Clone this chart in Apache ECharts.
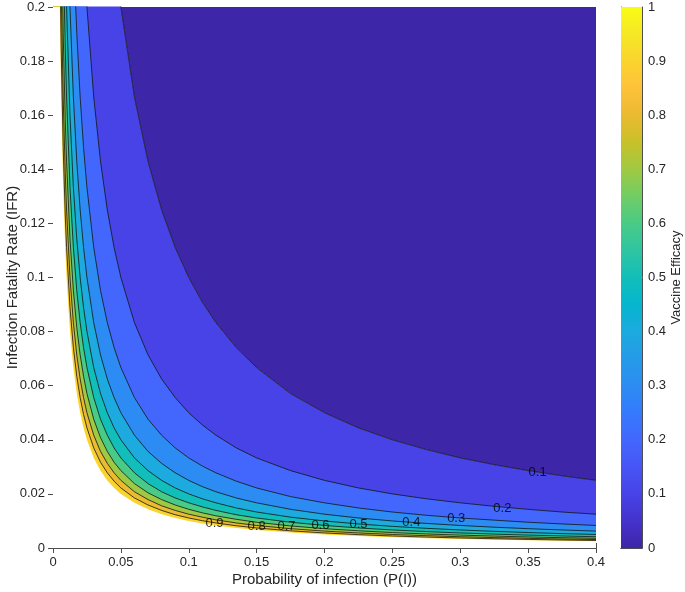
<!DOCTYPE html>
<html><head><meta charset="utf-8">
<script src="https://cdn.jsdelivr.net/npm/echarts@6/dist/echarts.min.js"></script>
<style>html,body{margin:0;padding:0;background:#fff}#c{width:685px;height:592px}</style>
</head><body><div id="c"></div>
<script>
// ---- tick labels ----
const xTicks = ['0','0.05','0.1','0.15','0.2','0.25','0.3','0.35','0.4'];
const yTicks = ['0','0.02','0.04','0.06','0.08','0.1','0.12','0.14','0.16','0.18','0.2'];
const cbTicks = ['0','0.1','0.2','0.3','0.4','0.5','0.6','0.7','0.8','0.9','1'];

// ---- contour lines: IFR value of each level at these P(I) ----
const pI = [0,0.002,0.003,0.004,0.005,0.006,0.0075,0.009,0.01,0.0125,0.015,0.0175,0.02,0.0225,0.025,0.03,0.035,0.04,0.045,0.05,0.06,0.07,0.08,0.09,0.1,0.11,0.12,0.135,0.15,0.175,0.2,0.225,0.25,0.275,0.3,0.325,0.35,0.375,0.4];
const ve01 = [33.33,5,3.333,2.5,2,1.667,1.333,1.111,1,0.8,0.6667,0.5714,0.5,0.4444,0.4,0.3333,0.2857,0.25,0.2222,0.2,0.1667,0.1429,0.125,0.1111,0.1,0.0909,0.0833,0.0741,0.0667,0.0571,0.05,0.0444,0.04,0.0364,0.0333,0.0308,0.0286,0.0267,0.025];
const ve02 = [16.67,2.5,1.667,1.25,1,0.8333,0.6667,0.5556,0.5,0.4,0.3333,0.2857,0.25,0.2222,0.2,0.1667,0.1429,0.125,0.1111,0.1,0.0833,0.0714,0.0625,0.0556,0.05,0.0455,0.0417,0.037,0.0333,0.0286,0.025,0.0222,0.02,0.0182,0.0167,0.0154,0.0143,0.0133,0.0125];
const ve03 = [11.11,1.667,1.111,0.8333,0.6667,0.5556,0.4444,0.3704,0.3333,0.2667,0.2222,0.1905,0.1667,0.1481,0.1333,0.1111,0.0952,0.0833,0.0741,0.0667,0.0556,0.0476,0.0417,0.037,0.0333,0.0303,0.0278,0.0247,0.0222,0.019,0.0167,0.0148,0.0133,0.0121,0.0111,0.0103,0.00952,0.00889,0.00833];
const ve04 = [8.333,1.25,0.8333,0.625,0.5,0.4167,0.3333,0.2778,0.25,0.2,0.1667,0.1429,0.125,0.1111,0.1,0.0833,0.0714,0.0625,0.0556,0.05,0.0417,0.0357,0.0313,0.0278,0.025,0.0227,0.0208,0.0185,0.0167,0.0143,0.0125,0.0111,0.01,0.00909,0.00833,0.00769,0.00714,0.00667,0.00625];
const ve05 = [6.667,1,0.6667,0.5,0.4,0.3333,0.2667,0.2222,0.2,0.16,0.1333,0.1143,0.1,0.0889,0.08,0.0667,0.0571,0.05,0.0444,0.04,0.0333,0.0286,0.025,0.0222,0.02,0.0182,0.0167,0.0148,0.0133,0.0114,0.01,0.00889,0.008,0.00727,0.00667,0.00615,0.00571,0.00533,0.005];
const ve06 = [5.556,0.8333,0.5556,0.4167,0.3333,0.2778,0.2222,0.1852,0.1667,0.1333,0.1111,0.0952,0.0833,0.0741,0.0667,0.0556,0.0476,0.0417,0.037,0.0333,0.0278,0.0238,0.0208,0.0185,0.0167,0.0152,0.0139,0.0123,0.0111,0.00952,0.00833,0.00741,0.00667,0.00606,0.00556,0.00513,0.00476,0.00444,0.00417];
const ve07 = [4.762,0.7143,0.4762,0.3571,0.2857,0.2381,0.1905,0.1587,0.1429,0.1143,0.0952,0.0816,0.0714,0.0635,0.0571,0.0476,0.0408,0.0357,0.0317,0.0286,0.0238,0.0204,0.0179,0.0159,0.0143,0.013,0.0119,0.0106,0.00952,0.00816,0.00714,0.00635,0.00571,0.00519,0.00476,0.0044,0.00408,0.00381,0.00357];
const ve08 = [4.167,0.625,0.4167,0.3125,0.25,0.2083,0.1667,0.1389,0.125,0.1,0.0833,0.0714,0.0625,0.0556,0.05,0.0417,0.0357,0.0313,0.0278,0.025,0.0208,0.0179,0.0156,0.0139,0.0125,0.0114,0.0104,0.00926,0.00833,0.00714,0.00625,0.00556,0.005,0.00455,0.00417,0.00385,0.00357,0.00333,0.00313];
const ve09 = [3.704,0.5556,0.3704,0.2778,0.2222,0.1852,0.1481,0.1235,0.1111,0.0889,0.0741,0.0635,0.0556,0.0494,0.0444,0.037,0.0317,0.0278,0.0247,0.0222,0.0185,0.0159,0.0139,0.0123,0.0111,0.0101,0.00926,0.00823,0.00741,0.00635,0.00556,0.00494,0.00444,0.00404,0.0037,0.00342,0.00317,0.00296,0.00278];
const ve10 = [3.333,0.5,0.3333,0.25,0.2,0.1667,0.1333,0.1111,0.1,0.08,0.0667,0.0571,0.05,0.0444,0.04,0.0333,0.0286,0.025,0.0222,0.02,0.0167,0.0143,0.0125,0.0111,0.01,0.00909,0.00833,0.00741,0.00667,0.00571,0.005,0.00444,0.004,0.00364,0.00333,0.00308,0.00286,0.00267,0.0025];

// ---- contour labels ----
const labelText = ['0.1','0.2','0.3','0.4','0.5','0.6','0.7','0.8','0.9'];
const labelP = [0.357,0.331,0.297,0.264,0.225,0.197,0.172,0.150,0.119];
const labelIFR = [0.0278,0.0148,0.0111,0.0096,0.0088,0.0084,0.0081,0.0081,0.0091];

// ---- colours (parula) ----
const bandColors = ['#3E26A8','#4743E7','#4367FD','#2D8CF3','#1CAADF','#12BEB9','#48CB86','#9FC942','#EABA31','#FAD42E'];
const parula = ['#3E26A8','#4433CC','#4743E7','#4755F6','#4367FD','#347AFD','#2D8CF3','#259BE8','#1CAADF','#05B6CE','#12BEB9','#2FC5A2','#48CB86','#71CD64','#9FC942','#C8C129','#EABA31','#FEC13A','#FAD42E','#F5E825','#F9FB15'];

const FONT = 'Liberation Sans, Arial, Helvetica, sans-serif';
const AX = '#4d4d4d', TXT = '#262626';
const chart = echarts.init(document.getElementById('c'), null, {renderer: 'canvas'});

const levelArrays = [ve01,ve02,ve03,ve04,ve05,ve06,ve07,ve08,ve09,ve10];
const pairs = arr => arr.map((v,i) => [pI[i], v]);

const series = [];
series.push({
  type: 'line', xAxisIndex: 0, yAxisIndex: 0, data: pairs(ve01), symbol: 'none',
  lineStyle: {width: 0}, areaStyle: {color: bandColors[0], opacity: 1, origin: 'end'},
  silent: true, z: 1
});
levelArrays.forEach((arr, i) => {
  const last = i === levelArrays.length - 1;
  series.push({
    type: 'line', xAxisIndex: 0, yAxisIndex: 0, data: pairs(arr), symbol: 'none',
    silent: true, z: 2,
    lineStyle: last ? {width: 0} : {width: 0.8, color: '#141414'},
    areaStyle: {color: last ? '#ffffff' : bandColors[i + 1], opacity: 1, origin: 'start'}
  });
});
series.push({
  type: 'scatter', xAxisIndex: 0, yAxisIndex: 0, symbolSize: 1, silent: true, z: 5,
  itemStyle: {color: 'rgba(0,0,0,0)'},
  data: labelP.map((p,i) => ({value: [p, labelIFR[i]], name: labelText[i]})),
  label: {show: true, position: 'inside', formatter: p => p.name, fontSize: 13, color: '#000', fontFamily: FONT}
});
series.push({
  type: 'bar', xAxisIndex: 2, yAxisIndex: 2, data: [1], barWidth: '100%', silent: true,
  itemStyle: {color: new echarts.graphic.LinearGradient(0, 1, 0, 0,
    parula.map((c, i) => ({offset: i / (parula.length - 1), color: c})))}
});

const tickStyle = {inside: true, length: 5, lineStyle: {color: AX, width: 1}};
const lineStyle = {show: true, lineStyle: {color: AX, width: 1}};
const labelStyle = {color: TXT, fontSize: 13, fontFamily: FONT, margin: 8};

chart.setOption({
  animation: false,
  backgroundColor: '#fff',
  grid: [
    {left: 53, right: 89, top: 7, bottom: 44, containLabel: false, outerBoundsMode: 'none'},
    {left: 621, right: 43, top: 7, bottom: 44, containLabel: false, outerBoundsMode: 'none'}
  ],
  xAxis: [
    {gridIndex: 0, type: 'value', min: 0, max: 0.4, interval: 0.05, position: 'bottom',
     axisLine: lineStyle, axisTick: tickStyle, splitLine: {show: false},
     axisLabel: Object.assign({}, labelStyle, {formatter: v => xTicks[Math.round(v / 0.05)]}),
     name: 'Probability of infection (P(I))', nameLocation: 'middle', nameGap: 24, nameMoveOverlap: false,
     nameTextStyle: {color: TXT, fontSize: 15, fontFamily: FONT}},
    {gridIndex: 0, type: 'value', min: 0, max: 0.4, interval: 0.05, position: 'top',
     axisLine: lineStyle, axisTick: tickStyle, splitLine: {show: false}, axisLabel: {show: false}},
    {gridIndex: 1, type: 'category', data: ['cb'], position: 'bottom',
     axisLine: lineStyle, axisTick: {show: false}, axisLabel: {show: false}},
    {gridIndex: 1, type: 'category', data: ['cb'], position: 'top',
     axisLine: lineStyle, axisTick: {show: false}, axisLabel: {show: false}}
  ],
  yAxis: [
    {gridIndex: 0, type: 'value', min: 0, max: 0.2, interval: 0.02, position: 'left',
     axisLine: lineStyle, axisTick: tickStyle, splitLine: {show: false},
     axisLabel: Object.assign({}, labelStyle, {formatter: v => yTicks[Math.round(v / 0.02)]}),
     name: 'Infection Fatality Rate (IFR)', nameLocation: 'middle', nameGap: 33, nameRotate: 90, nameMoveOverlap: false,
     nameTextStyle: {color: TXT, fontSize: 15, fontFamily: FONT}},
    {gridIndex: 0, type: 'value', min: 0, max: 0.2, interval: 0.02, position: 'right',
     axisLine: lineStyle, axisTick: tickStyle, splitLine: {show: false}, axisLabel: {show: false}},
    {gridIndex: 1, type: 'value', min: 0, max: 1, interval: 0.1, position: 'right',
     axisLine: lineStyle, axisTick: tickStyle, splitLine: {show: false},
     axisLabel: Object.assign({}, labelStyle, {margin: 6, formatter: v => cbTicks[Math.round(v / 0.1)]}),
     name: 'Vaccine Efficacy', nameLocation: 'middle', nameGap: 28, nameRotate: 90, nameMoveOverlap: false,
     nameTextStyle: {color: TXT, fontSize: 13, fontFamily: FONT}},
    {gridIndex: 1, type: 'value', min: 0, max: 1, interval: 0.1, position: 'left',
     axisLine: lineStyle, axisTick: {show: false}, splitLine: {show: false}, axisLabel: {show: false}}
  ],
  series: series
});
</script>
</body></html>
